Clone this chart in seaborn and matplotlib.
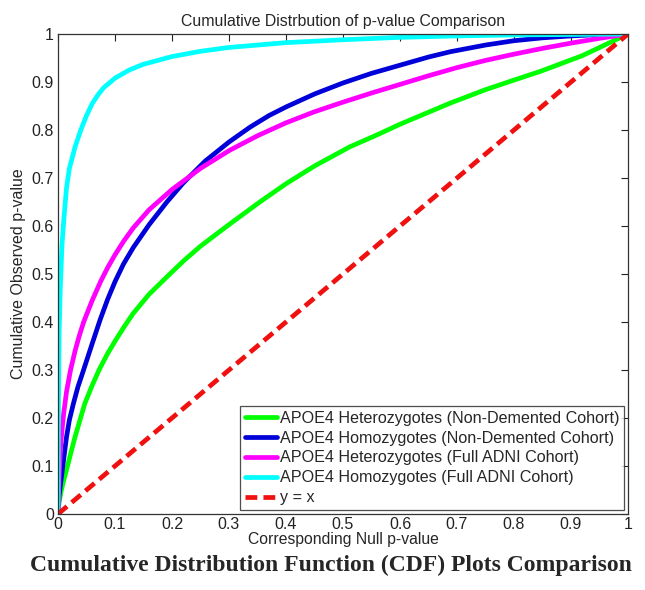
import numpy as np
import pandas as pd
import matplotlib
matplotlib.use("Agg")
import matplotlib.pyplot as plt
import seaborn as sns

# ------------------------------------------------------------------
#  Data (null p-value -> cumulative observed)
# ------------------------------------------------------------------
het_nd_x = [0, 0.002, 0.006, 0.01, 0.015, 0.022, 0.03, 0.047, 0.06, 0.072, 0.086,
            0.1, 0.116, 0.132, 0.16, 0.191, 0.22, 0.249, 0.28, 0.307, 0.354, 0.4,
            0.45, 0.512, 0.56, 0.6, 0.65, 0.688, 0.75, 0.8, 0.846, 0.92, 1.0]
het_nd_y = [0, 0.025, 0.05, 0.07, 0.092, 0.125, 0.161, 0.23, 0.268, 0.30, 0.332,
            0.36, 0.39, 0.418, 0.458, 0.494, 0.527, 0.557, 0.585, 0.609, 0.65, 0.688,
            0.725, 0.765, 0.79, 0.812, 0.837, 0.856, 0.884, 0.904, 0.922, 0.955, 1.0]

hom_nd_x = [0, 0.002, 0.0076, 0.015, 0.02, 0.027, 0.035, 0.044, 0.06, 0.074, 0.087,
            0.1, 0.115, 0.132, 0.16, 0.191, 0.22, 0.258, 0.3, 0.337, 0.37, 0.4, 0.45,
            0.5, 0.55, 0.6, 0.65, 0.688, 0.75, 0.8, 0.85, 0.9, 0.95, 1.0]
hom_nd_y = [0, 0.04, 0.092, 0.161, 0.196, 0.23, 0.265, 0.297, 0.355, 0.405, 0.447,
            0.484, 0.521, 0.555, 0.603, 0.65, 0.69, 0.735, 0.775, 0.806, 0.83, 0.848, 0.875,
            0.898, 0.918, 0.935, 0.952, 0.963, 0.977, 0.986, 0.992, 0.996, 0.999, 1.0]

het_full_x = [0, 0.002, 0.005, 0.01, 0.015, 0.022, 0.03, 0.037, 0.045, 0.06, 0.075,
              0.087, 0.1, 0.115, 0.132, 0.16, 0.2, 0.25, 0.3, 0.35, 0.4, 0.45, 0.5,
              0.55, 0.6, 0.65, 0.7, 0.75, 0.8, 0.85, 0.9, 0.95, 1.0]
het_full_y = [0, 0.08, 0.15, 0.21, 0.255, 0.30, 0.34, 0.37, 0.40, 0.445, 0.485,
              0.513, 0.54, 0.568, 0.596, 0.634, 0.676, 0.72, 0.757, 0.788, 0.815, 0.838,
              0.858, 0.877, 0.895, 0.913, 0.93, 0.945, 0.958, 0.97, 0.981, 0.991, 1.0]

hom_full_x = [0, 0.001, 0.002, 0.004, 0.007, 0.01, 0.015, 0.02, 0.03, 0.04, 0.05,
              0.06, 0.07, 0.08, 0.1, 0.125, 0.15, 0.2, 0.25, 0.3, 0.4, 0.5, 0.6, 0.7,
              0.8, 0.9, 1.0]
hom_full_y = [0, 0.25, 0.38, 0.47, 0.56, 0.61, 0.68, 0.72, 0.765, 0.80, 0.83,
              0.855, 0.873, 0.888, 0.908, 0.925, 0.937, 0.953, 0.964, 0.972, 0.982, 0.988,
              0.993, 0.996, 0.998, 0.999, 1.0]

ref_x = [0, 1]
ref_y = [0, 1]

labels = ["APOE4 Heterozygotes (Non-Demented Cohort)",
          "APOE4 Homozygotes (Non-Demented Cohort)",
          "APOE4 Heterozygotes (Full ADNI Cohort)",
          "APOE4 Homozygotes (Full ADNI Cohort)"]
colors = ["#00ff00", "#0000d8", "#ff00ff", "#00ffff"]

ticks = [0, 0.1, 0.2, 0.3, 0.4, 0.5, 0.6, 0.7, 0.8, 0.9, 1]
tick_labels = ["0", "0.1", "0.2", "0.3", "0.4", "0.5", "0.6", "0.7", "0.8", "0.9", "1"]

# ------------------------------------------------------------------
#  Style
# ------------------------------------------------------------------
sns.set_theme(style="white")
plt.rcParams["font.family"] = ["Liberation Sans", "DejaVu Sans"]

fig = plt.figure(figsize=(6.45, 5.9), dpi=100)
ax = fig.add_axes([58 / 645, 76 / 590, 570 / 645, 480 / 590])

series = [(het_nd_x, het_nd_y), (hom_nd_x, hom_nd_y),
          (het_full_x, het_full_y), (hom_full_x, hom_full_y)]
for (xs, ys), lab, col in zip(series, labels, colors):
    df = pd.DataFrame({"x": xs, "y": ys})
    sns.lineplot(data=df, x="x", y="y", ax=ax, color=col, lw=3.4,
                 label=lab, estimator=None, sort=False)

ref = pd.DataFrame({"x": ref_x, "y": ref_y})
sns.lineplot(data=ref, x="x", y="y", ax=ax, color="#f01010", lw=3.4,
             label="y = x", estimator=None)
ax.lines[-1].set_dashes((2.5, 1.3))

ax.set_xlim(0, 1)
ax.set_ylim(0, 1)
ax.set_xticks(ticks)
ax.set_xticklabels(tick_labels)
ax.set_yticks(ticks)
ax.set_yticklabels(tick_labels)
ax.tick_params(direction="in", length=5, width=0.8, top=True, right=True,
               labelsize=11.5, colors="#222222", pad=3)
ax.tick_params(axis="x", pad=2)
for sp in ax.spines.values():
    sp.set_color("#333333")
    sp.set_linewidth(0.9)

ax.set_xlabel("Corresponding Null p-value", fontsize=11.3, labelpad=0)
ax.set_ylabel("Cumulative Observed p-value", fontsize=11.5, labelpad=4)
ax.set_title("Cumulative Distrbution of p-value Comparison", fontsize=11.4, pad=6)

leg = ax.legend(loc="lower right", fontsize=11.6, frameon=True, fancybox=False,
                edgecolor="#222222", handlelength=2.0, handletextpad=0.15,
                labelspacing=0.3, borderpad=0.3, borderaxespad=0.25)
leg.get_frame().set_linewidth(0.9)

fig.text(0.513, 0.042, "Cumulative Distribution Function (CDF) Plots Comparison",
         ha="center", va="center", fontsize=17, fontweight="bold",
         family=["Liberation Serif", "DejaVu Serif"])

fig.savefig("out.png", dpi=100)
